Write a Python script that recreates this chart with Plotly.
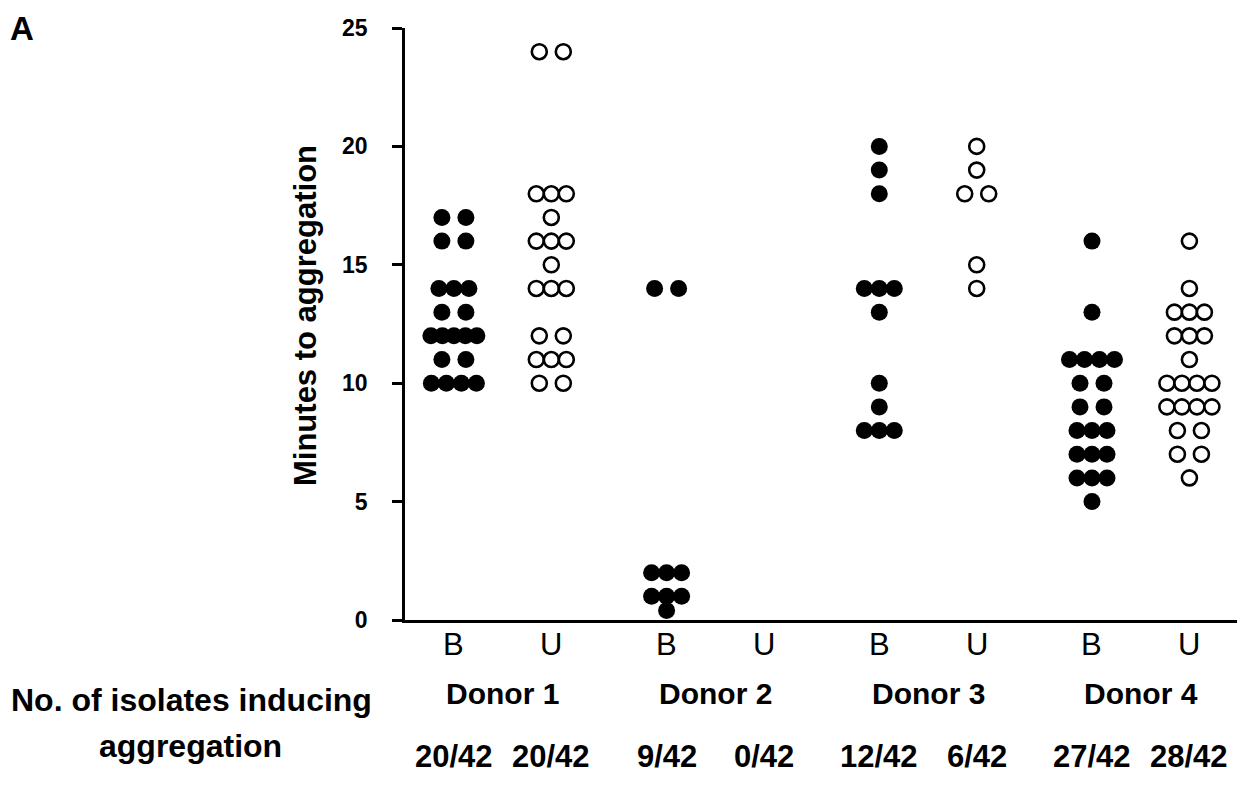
import plotly.graph_objects as go
from collections import defaultdict

# ---------------- data ----------------
donors = ["Donor 1", "Donor 2", "Donor 3", "Donor 4"]
conditions = ["B", "U"]
fractions = ["20/42", "20/42", "9/42", "0/42", "12/42", "6/42", "27/42", "28/42"]

donor1_B = [17, 17, 16, 16, 14, 14, 14, 13, 13, 12, 12, 12, 12, 12, 11, 11, 10, 10, 10, 10]
donor1_U = [24, 24, 18, 18, 18, 17, 16, 16, 16, 15, 14, 14, 14, 12, 12, 11, 11, 11, 10, 10]
donor2_B = [14, 14, 2, 2, 2, 1, 1, 1, 0.4]
donor2_U = []
donor3_B = [20, 19, 18, 14, 14, 14, 13, 10, 9, 8, 8, 8]
donor3_U = [20, 19, 18, 18, 15, 14]
donor4_B = [16, 13, 11, 11, 11, 11, 10, 10, 9, 9, 8, 8, 8, 7, 7, 7, 6, 6, 6, 5]
donor4_U = [16, 14, 13, 13, 13, 12, 12, 12, 11, 10, 10, 10, 10, 9, 9, 9, 9, 8, 8, 7, 7, 6]

series = [donor1_B, donor1_U, donor2_B, donor2_U,
          donor3_B, donor3_U, donor4_B, donor4_U]

y_ticks = [0, 5, 10, 15, 20, 25]

# ---------------- layout helpers ----------------
PX_PER_UNIT = 212.7        # horizontal pixels per donor step
HALF_GAP = 0.229           # B / U offset from donor centre (x units)
FONT = "Liberation Sans, Arial, Helvetica, sans-serif"
PAGE_OFF = 8               # default body margin of the html page

PLOT_L, PLOT_R, PLOT_T, PLOT_B = 405, 1245, 28, 620   # plot area in page pixels
PW, PH = PLOT_R - PLOT_L, PLOT_B - PLOT_T


def px(x):
    return (x - PLOT_L) / PW


def py(y):
    return (PLOT_B - y) / PH


def swarm_offsets(vals):
    """Spread equal values horizontally (pixel spacing converted to x units)."""
    rows = defaultdict(list)
    for i, v in enumerate(vals):
        rows[v].append(i)
    offs = [0.0] * len(vals)
    for v, idx in rows.items():
        n = len(idx)
        if n == 1:
            continue
        sp = 24.0 if n == 2 else min(15.0, 46.0 / (n - 1))
        for k, i in enumerate(idx):
            offs[i] = (k - (n - 1) / 2.0) * sp / PX_PER_UNIT
    return offs


positions = []
for d in range(len(donors)):
    positions += [d - HALF_GAP, d + HALF_GAP]

fig = go.Figure()
for j, vals in enumerate(series):
    offs = swarm_offsets(vals)
    xs = [positions[j] + o for o in offs]
    filled = conditions[j % 2] == "B"
    fig.add_trace(go.Scatter(
        x=xs, y=vals, mode="markers", cliponaxis=False, hoverinfo="y",
        marker=dict(
            symbol="circle",
            size=17 if filled else 15,
            color="black" if filled else "white",
            line=dict(color="black", width=0 if filled else 2.6),
        ),
    ))


def bold(size):
    return dict(family=FONT, size=size, color="black", weight="bold")


annotations = []
# B / U labels
for j, pos in enumerate(positions):
    annotations.append(dict(
        x=pos, y=py(644), xref="x", yref="paper", text=conditions[j % 2],
        showarrow=False, xanchor="center", yanchor="middle",
        font=dict(family=FONT, size=31, color="black")))
# donor labels
for d, name in enumerate(donors):
    annotations.append(dict(
        x=d, y=py(693), xref="x", yref="paper", text=name,
        showarrow=False, xanchor="center", yanchor="middle", font=bold(30)))
# fractions
for j, fr in enumerate(fractions):
    annotations.append(dict(
        x=positions[j], y=py(756), xref="x", yref="paper", text=fr,
        showarrow=False, xanchor="center", yanchor="middle", font=bold(31)))
# row header
annotations.append(dict(
    x=px(191), y=py(700), xref="paper", yref="paper",
    text="No. of isolates inducing", showarrow=False,
    xanchor="center", yanchor="middle", font=bold(32)))
annotations.append(dict(
    x=px(190), y=py(746), xref="paper", yref="paper",
    text="aggregation", showarrow=False,
    xanchor="center", yanchor="middle", font=bold(32)))
# y title
annotations.append(dict(
    x=px(305), y=py(316), xref="paper", yref="paper",
    text="Minutes to aggregation", showarrow=False, textangle=-90,
    xanchor="center", yanchor="middle", font=bold(31)))
# panel letter
annotations.append(dict(
    x=px(PAGE_OFF), y=py(PAGE_OFF), xref="paper", yref="paper",
    text="A", showarrow=False, xanchor="left", yanchor="top", font=bold(33)))

fig.update_layout(
    width=1245 - PAGE_OFF, height=786 - PAGE_OFF,
    margin=dict(l=PLOT_L - PAGE_OFF, r=0, t=PLOT_T - PAGE_OFF,
                b=(786 - PAGE_OFF) - (PLOT_B - PAGE_OFF)),
    paper_bgcolor="white", plot_bgcolor="white",
    showlegend=False,
    annotations=annotations,
    xaxis=dict(
        range=[(PLOT_L - 502.6) / PX_PER_UNIT, (PLOT_R - 502.6) / PX_PER_UNIT],
        showline=True, linecolor="black", linewidth=2.6,
        showgrid=False, zeroline=False, ticks="", showticklabels=False,
    ),
    yaxis=dict(
        range=[0, 25],
        showline=True, linecolor="black", linewidth=2.6,
        showgrid=False, zeroline=False,
        ticks="outside", ticklen=10, tickwidth=2.6, tickcolor="black",
        tickmode="array", tickvals=y_ticks,
        tickfont=bold(23),
        ticklabelstandoff=20,
    ),
)

fig.write_html("out.html")
